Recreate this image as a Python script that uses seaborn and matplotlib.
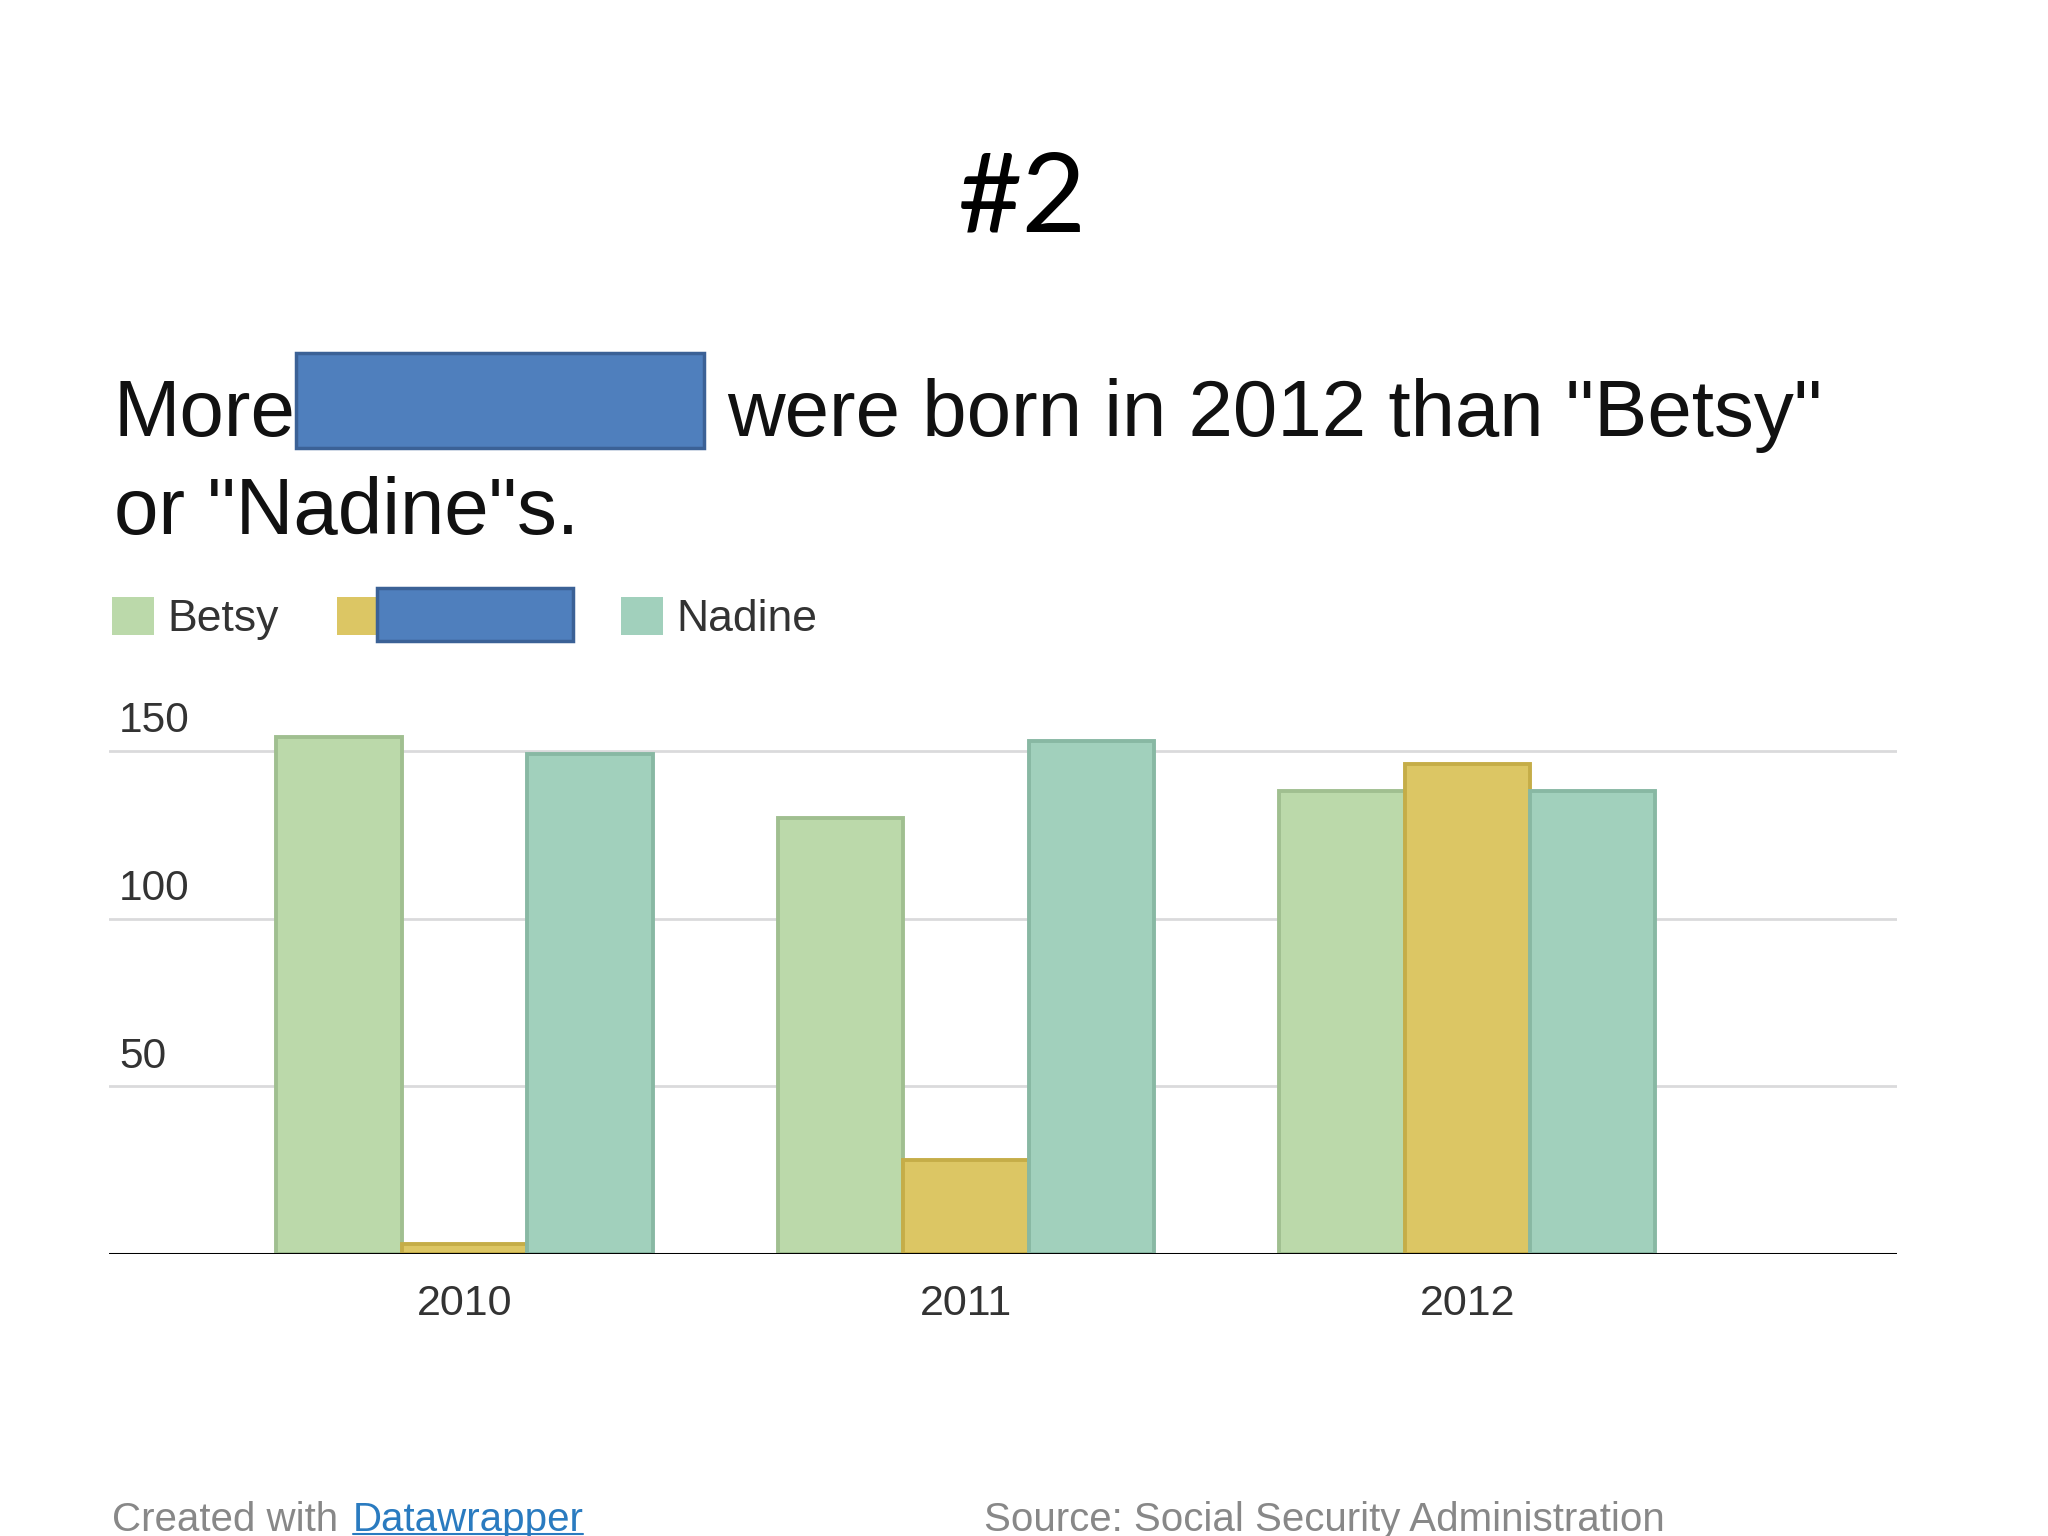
import pandas as pd
import matplotlib.pyplot as plt
import numpy as np
import seaborn as sns
import matplotlib.transforms as mtransforms
from matplotlib.patches import Rectangle, Patch
from matplotlib.lines import Line2D

## Datos (nacimientos por nombre y año)
years = ['2010', '2011', '2012']
names = ['Betsy', 'Khaleesi', 'Nadine']
betsy = [154, 130, 138]
khaleesi = [3, 28, 146]
nadine = [149, 153, 138]
yticks = [50, 100, 150]

fill_colors = ['#bbd9aa', '#dcc664', '#a1d0bc']
edge_colors = ['#a0bf90', '#c5ad48', '#88b8a3']
box_fill = '#4f7fbd'
box_edge = '#3b6196'

births = pd.DataFrame({
    'year': years * 3,
    'name': np.repeat(names, 3),
    'births': betsy + khaleesi + nadine,
})

W, H = 2048, 1536
def fx(px):
    return px / W
def fy(py):
    return 1 - py / H

sns.set_theme(style='white')
plt.rcParams['font.family'] = ['Liberation Sans', 'DejaVu Sans']

fig = plt.figure(figsize=(20.48, 15.36), dpi=100)
fig.patch.set_facecolor('white')

#%%
## Grafica de barras
ax = fig.add_axes([fx(109), fy(1254), fx(1896.5) - fx(109), (1254 - 717.2) / H])
ax.set_facecolor('white')
sns.barplot(data=births, x='year', y='births', hue='name', hue_order=names,
            palette=fill_colors, width=0.75, saturation=1, errorbar=None,
            linewidth=2.8, legend=False, ax=ax)
for cont, ec in zip(ax.containers, edge_colors):
    for bar in cont:
        bar.set_edgecolor(ec)

ax.set_xlim(-0.709, 2.856)
ax.set_ylim(0, 160)
ax.set_yticks(yticks)
ax.yaxis.grid(True, color='#dadadc', lw=2)
ax.xaxis.grid(False)
ax.set_axisbelow(True)
ax.axhline(0, color='black', lw=2.2, zorder=5)
for s in ax.spines.values():
    s.set_visible(False)
ax.set_xlabel('')
ax.set_ylabel('')

ax.tick_params(axis='y', length=0, pad=-7.2, labelsize=30.5, labelcolor='#333333')
ax.tick_params(axis='x', length=0, pad=21.3, labelsize=31, labelcolor='#333333')
lift = mtransforms.ScaledTranslation(0, 18.4 / 100, fig.dpi_scale_trans)
for lab in ax.get_yticklabels():
    lab.set_ha('left')
    lab.set_va('baseline')
    lab.set_transform(lab.get_transform() + lift)

#%%
## Titulo
fig.text(fx(1021.6), fy(231.7), '#2', fontsize=80, family=['Lato', 'DejaVu Sans'],
         ha='center', va='baseline', color='black')
fig.text(fx(113.6), fy(436), 'More', fontsize=57.5, va='baseline', color='#111111')
fig.text(fx(727), fy(436), 'were born in 2012 than "Betsy"', fontsize=57.5,
         va='baseline', color='#111111')
fig.text(fx(113.6), fy(534), 'or "Nadine"s.', fontsize=57.5, va='baseline', color='#111111')
fig.add_artist(Rectangle((fx(296), fy(448)), fx(704) - fx(296), (448 - 353) / H,
                         transform=fig.transFigure, facecolor=box_fill,
                         edgecolor=box_edge, lw=2.5, zorder=10))

#%%
## Leyenda
handles = [Patch(facecolor=c, edgecolor='none') for c in fill_colors]
leg = fig.legend(handles, names, loc='upper left', bbox_to_anchor=(fx(112), fy(597)),
                 ncol=3, frameon=False, fontsize=32, handlelength=0.95,
                 handleheight=0.95, handletextpad=0.3, columnspacing=1.3,
                 borderpad=0, borderaxespad=0, labelcolor='#333333')
fig.add_artist(Rectangle((fx(377), fy(641)), fx(573) - fx(377), (641 - 588) / H,
                         transform=fig.transFigure, facecolor=box_fill,
                         edgecolor=box_edge, lw=2.5, zorder=10))

#%%
## Pie
fig.text(fx(112), fy(1531), 'Created with', fontsize=29, color='#888888', va='baseline')
dw = fig.text(fx(352.5), fy(1531), 'Datawrapper', fontsize=29, color='#2a7bc0', va='baseline')
fig.text(fx(984), fy(1531), 'Source: Social Security Administration', fontsize=29,
         color='#888888', va='baseline')

fig.canvas.draw()
bb = dw.get_window_extent()
fig.add_artist(Line2D([bb.x0 / W, bb.x1 / W], [fy(1534), fy(1534)],
                      transform=fig.transFigure, color='#2a7bc0', lw=1.5))

plt.savefig('out.png', dpi=100)
